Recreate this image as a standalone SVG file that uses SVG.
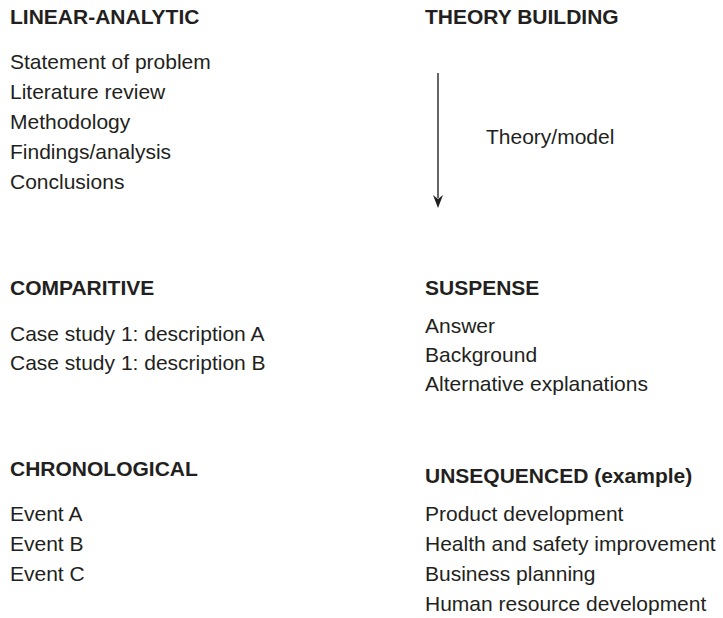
<svg xmlns="http://www.w3.org/2000/svg" width="723" height="618" viewBox="0 0 723 618">
  <style>
    text { font-family: "Liberation Sans", Arial, sans-serif; fill: #231f20; }
    .head { font-size: 21px; font-weight: bold; }
    .item { font-size: 21px; }
    .conn { stroke: #555555; stroke-width: 1.8; fill: none; }
  </style>
  <rect width="723" height="618" fill="#ffffff"/>

  <g id="linear-analytic">
    <text class="head" x="10" y="24">LINEAR-ANALYTIC</text>
    <text class="item" x="10" y="69">Statement of problem</text>
    <text class="item" x="10" y="99">Literature review</text>
    <text class="item" x="10" y="129">Methodology</text>
    <text class="item" x="10" y="159">Findings/analysis</text>
    <text class="item" x="10" y="189">Conclusions</text>
  </g>

  <g id="theory-building">
    <text class="head" x="425" y="24">THEORY BUILDING</text>
    <text class="item" x="486" y="144">Theory/model</text>
  </g>

  <g id="connectors">
    <!-- downward arrow beside the theory/model label -->
    <line class="conn" x1="438" y1="73" x2="438" y2="198"/>
    <path d="M433,195 L438,199 L443,195 L438,208 Z" fill="#231f20"/>
  </g>

  <g id="comparitive">
    <text class="head" x="10" y="295">COMPARITIVE</text>
    <text class="item" x="10" y="341">Case study 1: description A</text>
    <text class="item" x="10" y="370">Case study 1: description B</text>
  </g>

  <g id="suspense">
    <text class="head" x="425" y="295">SUSPENSE</text>
    <text class="item" x="425" y="333">Answer</text>
    <text class="item" x="425" y="362">Background</text>
    <text class="item" x="425" y="391">Alternative explanations</text>
  </g>

  <g id="chronological">
    <text class="head" x="10" y="476">CHRONOLOGICAL</text>
    <text class="item" x="10" y="521">Event A</text>
    <text class="item" x="10" y="551">Event B</text>
    <text class="item" x="10" y="581">Event C</text>
  </g>

  <g id="unsequenced">
    <text class="head" x="425" y="483">UNSEQUENCED (example)</text>
    <text class="item" x="425" y="521">Product development</text>
    <text class="item" x="425" y="551">Health and safety improvement</text>
    <text class="item" x="425" y="581">Business planning</text>
    <text class="item" x="425" y="611">Human resource development</text>
  </g>
</svg>
